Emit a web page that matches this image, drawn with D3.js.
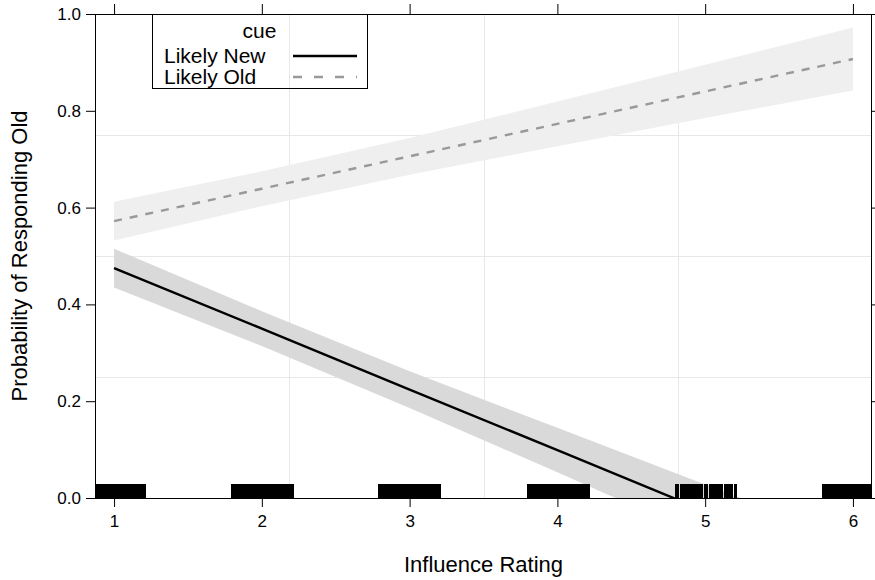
<!DOCTYPE html>
<html>
<head>
<meta charset="utf-8">
<script src="https://cdn.jsdelivr.net/npm/d3@7"></script>
<style>
  html, body { margin: 0; padding: 0; background: #ffffff; }
  svg { display: block; font-family: "Liberation Sans", Arial, Helvetica, sans-serif; }
</style>
</head>
<body>
<svg id="chart" width="875" height="580"></svg>
<script>
// ---------------- data ----------------
const xTicks = [1, 2, 3, 4, 5, 6];
const yTicks = [0.0, 0.2, 0.4, 0.6, 0.8, 1.0];
const xGrid = [2.186, 3.5, 4.814];
const yGrid = [0.25, 0.5, 0.75];

const cueLevels = ["Likely New", "Likely Old"];
const fitX = [1, 2, 3, 4, 5, 6];
const newFit   = [0.475, 0.350, 0.224, 0.099, -0.027, -0.153];
const newLower = [0.435, 0.314, 0.186, 0.053, -0.082, -0.218];
const newUpper = [0.515, 0.386, 0.262, 0.145,  0.028, -0.088];
const oldFit   = [0.572, 0.639, 0.706, 0.773, 0.840, 0.907];
const oldLower = [0.532, 0.603, 0.668, 0.727, 0.785, 0.842];
const oldUpper = [0.612, 0.675, 0.744, 0.819, 0.895, 0.972];

// rug of (jittered) influence ratings
const rug1 = [0.803,0.815,0.824,0.836,0.847,0.858,0.866,0.877,0.889,0.898,0.907,0.919,0.928,0.937,0.948,0.959,0.967,0.978,0.986,0.997,1.006,1.017,1.026,1.038,1.047,1.055,1.066,1.075,1.087,1.096,1.105,1.116,1.124,1.135,1.146,1.154,1.163,1.175,1.184,1.193,1.203,1.209];
const rug2 = [1.801,1.811,1.822,1.830,1.842,1.851,1.860,1.871,1.879,1.891,1.899,1.909,1.921,1.929,1.938,1.950,1.958,1.969,1.978,1.987,1.998,2.006,2.017,2.026,2.035,2.046,2.055,2.064,2.075,2.083,2.094,2.103,2.112,2.123,2.131,2.142,2.151,2.160,2.171,2.179,2.191,2.199,2.208];
const rug3 = [2.793,2.804,2.812,2.823,2.832,2.843,2.851,2.862,2.871,2.880,2.891,2.899,2.910,2.919,2.928,2.939,2.947,2.958,2.967,2.976,2.987,2.995,3.006,3.015,3.024,3.035,3.043,3.054,3.063,3.072,3.083,3.091,3.102,3.111,3.120,3.131,3.139,3.150,3.159,3.168,3.179,3.188,3.197,3.206];
const rug4 = [3.800,3.809,3.820,3.829,3.838,3.849,3.857,3.868,3.877,3.886,3.897,3.905,3.916,3.925,3.934,3.945,3.953,3.964,3.973,3.982,3.993,4.001,4.012,4.021,4.030,4.041,4.049,4.060,4.069,4.078,4.089,4.097,4.108,4.117,4.126,4.137,4.145,4.156,4.165,4.174,4.185,4.193,4.204,4.210];
const rug5 = [4.801,4.812,4.835,4.846,4.867,4.879,4.902,4.913,4.936,4.947,4.969,4.980,5.003,5.014,5.037,5.048,5.071,5.082,5.104,5.115,5.139,5.150,5.172,5.183,5.205];
const rug6 = [5.801,5.811,5.822,5.830,5.841,5.850,5.861,5.869,5.880,5.891,5.899,5.910,5.919,5.930,5.938,5.949,5.958,5.969,5.977,5.988,5.998,6.007,6.018,6.027,6.038,6.046,6.057,6.066,6.077,6.085,6.096,6.105,6.116,6.124,6.135,6.146,6.155,6.166,6.175,6.186,6.194,6.203];

// ---------------- layout ----------------
const svg = d3.select("#chart");
const P = { left: 95, right: 872, top: 14, bottom: 498 };
const x = d3.scaleLinear().domain([0.871, 6.129]).range([P.left, P.right]);
const y = d3.scaleLinear().domain([0, 1]).range([P.bottom, P.top]);

svg.append("defs").append("clipPath").attr("id", "panelClip")
  .append("rect").attr("x", P.left).attr("y", P.top)
  .attr("width", P.right - P.left).attr("height", P.bottom - P.top);

// grid
const grid = svg.append("g").attr("stroke", "#e8e8e8").attr("stroke-width", 1);
grid.selectAll("line.gx").data(xGrid).join("line").attr("class", "gx")
  .attr("x1", d => Math.round(x(d)) + 0.5).attr("x2", d => Math.round(x(d)) + 0.5)
  .attr("y1", P.top).attr("y2", P.bottom);
grid.selectAll("line.gy").data(yGrid).join("line").attr("class", "gy")
  .attr("y1", d => Math.round(y(d)) + 0.5).attr("y2", d => Math.round(y(d)) + 0.5)
  .attr("x1", P.left).attr("x2", P.right);

const panel = svg.append("g").attr("clip-path", "url(#panelClip)");

function series(fit, lo, hi) {
  return fitX.map((xv, i) => ({ x: xv, fit: fit[i], lo: lo[i], hi: hi[i] }));
}
const seriesData = [
  { name: cueLevels[0], data: series(newFit, newLower, newUpper), band: "#d9d9d9", stroke: "#000000", dash: null },
  { name: cueLevels[1], data: series(oldFit, oldLower, oldUpper), band: "#efefef", stroke: "#999999", dash: "8,8" }
];

const area = d3.area().x(d => x(d.x)).y0(d => y(d.lo)).y1(d => y(d.hi));
const line = d3.line().x(d => x(d.x)).y(d => y(d.fit));

panel.selectAll("path.band").data(seriesData).join("path").attr("class", "band")
  .attr("d", d => area(d.data)).attr("fill", d => d.band).attr("stroke", "none");

panel.selectAll("path.fit").data(seriesData).join("path").attr("class", "fit")
  .attr("d", d => line(d.data)).attr("fill", "none")
  .attr("stroke", d => d.stroke).attr("stroke-width", 2.4)
  .attr("stroke-dasharray", d => d.dash);

// rug
const rugAll = [].concat(rug1, rug2, rug3, rug4, rug5, rug6);
panel.append("g").attr("shape-rendering", "crispEdges")
  .selectAll("line").data(rugAll).join("line")
  .attr("x1", d => x(d)).attr("x2", d => x(d))
  .attr("y1", P.bottom).attr("y2", P.bottom - 14)
  .attr("stroke", "#000").attr("stroke-width", 2.5);

// axes
const fontTick = 17;
const axLeft = svg.append("g").attr("transform", `translate(${P.left},0)`)
  .call(d3.axisLeft(y).tickValues(yTicks).tickSize(9).tickPadding(5).tickFormat(d3.format(".1f")));
const axBottom = svg.append("g").attr("transform", `translate(0,${P.bottom})`)
  .call(d3.axisBottom(x).tickValues(xTicks).tickSize(9).tickPadding(8).tickFormat(d3.format("d")));
const axTop = svg.append("g").attr("transform", `translate(0,${P.top})`)
  .call(d3.axisTop(x).tickValues(xTicks).tickSize(10).tickFormat(""));
const axRight = svg.append("g").attr("transform", `translate(${P.right},0)`)
  .call(d3.axisRight(y).tickValues(yTicks).tickSize(9).tickFormat(""));
[axLeft, axBottom, axTop, axRight].forEach(g => {
  g.select(".domain").remove();
  g.selectAll(".tick line").attr("stroke", "#000").attr("stroke-width", 1);
  g.selectAll("text").attr("font-size", fontTick).attr("fill", "#000")
    .attr("font-family", "Liberation Sans, Arial, sans-serif");
});

// panel box
svg.append("rect").attr("x", P.left + 0.5).attr("y", P.top + 0.5)
  .attr("width", P.right - P.left - 1).attr("height", P.bottom - P.top)
  .attr("fill", "none").attr("stroke", "#000").attr("stroke-width", 1);

// axis titles
svg.append("text").attr("x", (P.left + P.right) / 2).attr("y", 572)
  .attr("text-anchor", "middle").attr("font-size", 22).text("Influence Rating");
svg.append("text").attr("transform", `translate(27,${(P.top + P.bottom) / 2}) rotate(-90)`)
  .attr("text-anchor", "middle").attr("font-size", 22).text("Probability of Responding Old");

// legend
const L = { x0: 152, x1: 367, y0: 14, y1: 88 };
const lg = svg.append("g");
lg.append("rect").attr("x", L.x0 + 0.5).attr("y", L.y0 + 0.5)
  .attr("width", L.x1 - L.x0).attr("height", L.y1 - L.y0)
  .attr("fill", "none").attr("stroke", "#000").attr("stroke-width", 1);
lg.append("text").attr("x", (L.x0 + L.x1) / 2).attr("y", 38)
  .attr("text-anchor", "middle").attr("font-size", 21).text("cue");
const rows = lg.selectAll("g.row").data(seriesData).join("g").attr("class", "row")
  .attr("transform", (d, i) => `translate(0,${56 + i * 21})`);
rows.append("text").attr("x", 164).attr("y", 7).attr("font-size", 21).text(d => d.name);
rows.append("line").attr("x1", 293).attr("x2", 357).attr("y1", 0).attr("y2", 0)
  .attr("stroke", d => d.stroke).attr("stroke-width", 2.4)
  .attr("stroke-dasharray", d => d.dash ? "9,12" : null);
</script>
</body>
</html>
